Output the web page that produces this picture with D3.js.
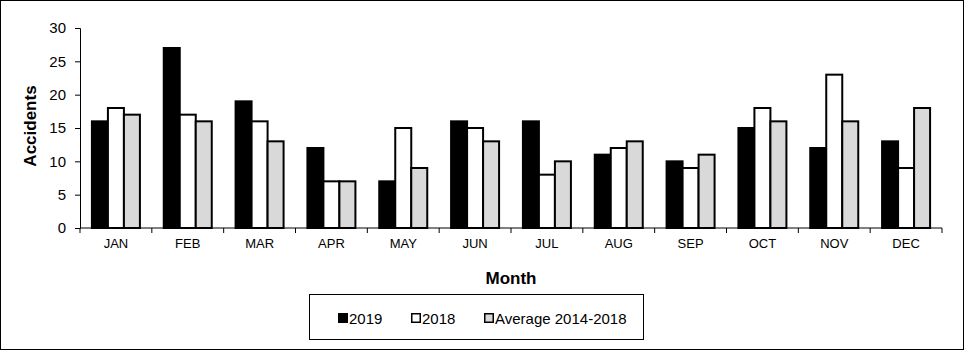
<!DOCTYPE html>
<html>
<head>
<meta charset="utf-8">
<script src="https://cdn.jsdelivr.net/npm/d3@7"></script>
<style>
  body { margin: 0; background: #fff; }
  svg { display: block; font-family: "Liberation Sans", Arial, sans-serif; }
</style>
</head>
<body>
<svg id="chart" width="965" height="351"></svg>
<script>
// data
var months = ['JAN','FEB','MAR','APR','MAY','JUN','JUL','AUG','SEP','OCT','NOV','DEC'];
var series = ['2019', '2018', 'Average 2014-2018'];
var v2019 = [16, 27, 19, 12, 7, 16, 16, 11, 10, 15, 12, 13];
var v2018 = [18, 17, 16, 7, 15, 15, 8, 12, 9, 18, 23, 9];
var vAvg  = [17, 16, 13, 7, 9, 13, 10, 13, 11, 16, 16, 18];
var yTicks = [0, 5, 10, 15, 20, 25, 30];
var fills = ['#000000', '#ffffff', '#d9d9d9'];

var svg = d3.select('#chart');

// outer frame
svg.append('rect')
    .attr('x', 0.5).attr('y', 0.5)
    .attr('width', 963).attr('height', 349)
    .attr('fill', 'none').attr('stroke', '#000');

var plotLeft = 80, plotRight = 942, plotTop = 28, plotBottom = 228;

var x = d3.scaleBand().domain(months).range([plotLeft, plotRight]).padding(0);
var xs = d3.scaleBand().domain(series).range([0, 48]);
var y = d3.scaleLinear().domain([0, 30]).range([plotBottom, plotTop]);

var rows = months.map(function(m, i){
  return {month: m, vals: [v2019[i], v2018[i], vAvg[i]]};
});

var groups = svg.append('g').selectAll('g')
    .data(rows)
    .enter().append('g')
    .attr('transform', function(d){ return 'translate(' + (x(d.month) + (x.bandwidth() - 48) / 2) + ',0)'; });

groups.selectAll('rect')
    .data(function(d){ return d.vals.map(function(v, j){ return {s: series[j], v: v, j: j}; }); })
    .enter().append('rect')
    .attr('x', function(d){ return xs(d.s); })
    .attr('y', function(d){ return y(d.v); })
    .attr('width', xs.bandwidth())
    .attr('height', function(d){ return plotBottom - y(d.v); })
    .attr('fill', function(d){ return fills[d.j]; })
    .attr('stroke', '#000')
    .attr('stroke-width', 2);

// y axis
var yAxis = svg.append('g')
    .attr('transform', 'translate(' + plotLeft + ',0)')
    .call(d3.axisLeft(y).tickValues(yTicks).tickSize(5).tickPadding(9));
yAxis.select('.domain').attr('stroke', '#000');
yAxis.selectAll('text').attr('font-size', 15).attr('fill', '#000').attr('font-family', '"Liberation Sans", Arial, sans-serif');

// x axis with ticks at category boundaries
var xAxisG = svg.append('g').attr('transform', 'translate(0,' + plotBottom + ')');
xAxisG.append('line')
    .attr('x1', plotLeft).attr('x2', plotRight)
    .attr('stroke', '#000');
var bounds = months.map(function(m){ return x(m); }).concat([plotRight]);
xAxisG.selectAll('line.tick')
    .data(bounds)
    .enter().append('line')
    .attr('class', 'tick')
    .attr('x1', function(d){ return d; }).attr('x2', function(d){ return d; })
    .attr('y1', 0).attr('y2', 5)
    .attr('stroke', '#000');
xAxisG.selectAll('text')
    .data(months)
    .enter().append('text')
    .attr('x', function(d){ return x(d) + x.bandwidth() / 2; })
    .attr('y', 20)
    .attr('text-anchor', 'middle')
    .attr('font-size', 13)
    .text(function(d){ return d; });

// axis titles
svg.append('text')
    .attr('transform', 'translate(36,126) rotate(-90)')
    .attr('text-anchor', 'middle')
    .attr('font-size', 17)
    .attr('font-weight', 'bold')
    .text('Accidents');

svg.append('text')
    .attr('x', (plotLeft + plotRight) / 2)
    .attr('y', 284)
    .attr('text-anchor', 'middle')
    .attr('font-size', 17)
    .attr('font-weight', 'bold')
    .text('Month');

// legend
var legend = svg.append('g');
legend.append('rect')
    .attr('x', 309.5).attr('y', 294.5)
    .attr('width', 334).attr('height', 45)
    .attr('fill', 'none').attr('stroke', '#000');

var legX = [338, 411, 484];
var items = legend.selectAll('g.item')
    .data(series)
    .enter().append('g')
    .attr('class', 'item')
    .attr('transform', function(d, i){ return 'translate(' + legX[i] + ',0)'; });
items.append('rect')
    .attr('x', 0.75).attr('y', 313.75)
    .attr('width', 8.5).attr('height', 8.5)
    .attr('fill', function(d, i){ return fills[i]; })
    .attr('stroke', '#000')
    .attr('stroke-width', 1.5);
items.append('text')
    .attr('x', 11).attr('y', 324)
    .attr('font-size', 15)
    .text(function(d){ return d; });
</script>
</body>
</html>
